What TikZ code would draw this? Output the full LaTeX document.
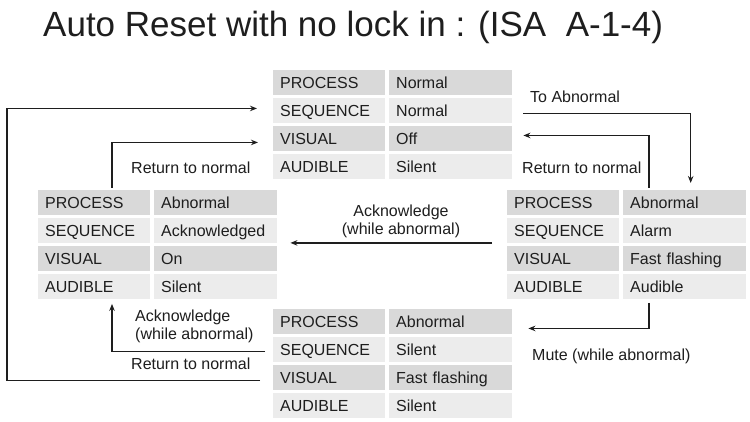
\documentclass[tikz,border=0pt]{standalone}
\usepackage{fontspec}
\setmainfont{Liberation Sans}
\usetikzlibrary{calc,arrows.meta}
\definecolor{cdark}{HTML}{D9D9D9}
\definecolor{clight}{HTML}{ECECEC}
\definecolor{ink}{HTML}{1E1E1E}
\newcommand\statetable[7]{%
  \foreach \r/\lab/\val/\col in {1/PROCESS/#4/cdark,2/SEQUENCE/#5/clight,3/VISUAL/#6/cdark,4/AUDIBLE/#7/clight}{%
    \node[cellL,fill=\col] (#1-\r l) at ($(#2,#3)+(0,{(\r-1)*28})$) {\lab};
    \node[cellR,fill=\col] (#1-\r r) at ($(#2,#3)+(116,{(\r-1)*28})$) {\val};
  }%
}
\begin{document}
\begin{tikzpicture}[x=1pt,y=-1pt,
  txt/.style={font=\fontsize{16}{18}\selectfont,text=ink},
  cellL/.style={txt,anchor=north west,inner xsep=7pt,inner ysep=0pt,text width=98pt,align=left,
    text height=11.5pt,text depth=0pt,minimum height=24.5pt},
  cellR/.style={cellL,text width=109pt},
  lbl/.style={txt,inner sep=0pt},
  arr/.style={draw=ink,line width=1.3pt,-{Stealth[length=7pt,width=5.5pt]}}]
\useasboundingbox (0,0) rectangle (750,422);
\fill[white] (0,0) rectangle (750,422);
\node[anchor=base west,inner sep=0pt,font=\fontsize{35}{38}\selectfont,text=ink] (title) at (43,37) {Auto Reset with no lock in : (ISA\ \ A-1-4)};
\statetable{top}{273}{70}{Normal}{Normal}{Off}{Silent}
\statetable{left}{38}{190}{Abnormal}{Acknowledged}{On}{Silent}
\statetable{right}{507}{190}{Abnormal}{Alarm}{Fast flashing}{Audible}
\statetable{bot}{273}{309}{Abnormal}{Silent}{Fast flashing}{Silent}
% coordinates
\coordinate (loopx) at (7,0);
\coordinate (a4s) at ($(bot-3l.west)+(-13,3)$);
\coordinate (a4e) at ($(top-2l.west)+(-16,-2)$);
% connectors
\draw[arr] ($(top-2r.east)+(11,3)$) -| ($(right-1r.north)+(6,-7)$);
\draw[arr] ($(right-1r.north west)+(26,-2)$) |- ($(top-3r.east)+(11,-3)$);
\draw[arr] ($(left-1l.north west)+(74,-2)$) |- ($(top-3l.west)+(-15,4)$);
\draw[arr] (a4s) -- (a4s -| loopx) |- (a4e);
\draw[arr] ($(right-2l.south west)+(-15,0)$) -- ($(left-2r.south east)+(13,0)$);
\draw[arr] ($(bot-2l.west)+(-8,2)$) -| ($(left-4l.south west)+(74,5)$);
\draw[arr] ($(right-4r.south west)+(26,4)$) |- ($(bot-1r.east)+(16,7)$);
% labels
\node[lbl,anchor=west] (l1) at (530,97) {To Abnormal};
\node[lbl,anchor=west] (l2) at (522,168) {Return to normal};
\node[lbl,anchor=west] (l3) at (131,168) {Return to normal};
\node[lbl,align=center] (l4) at (401,221) {Acknowledge\\(while abnormal)};
\node[lbl,align=left,anchor=west] (l5) at (135,326) {Acknowledge\\(while abnormal)};
\node[lbl,anchor=west] (l6) at (131,364) {Return to normal};
\node[lbl,anchor=west] (l7) at (532,356) {Mute (while abnormal)};
\end{tikzpicture}
\end{document}
